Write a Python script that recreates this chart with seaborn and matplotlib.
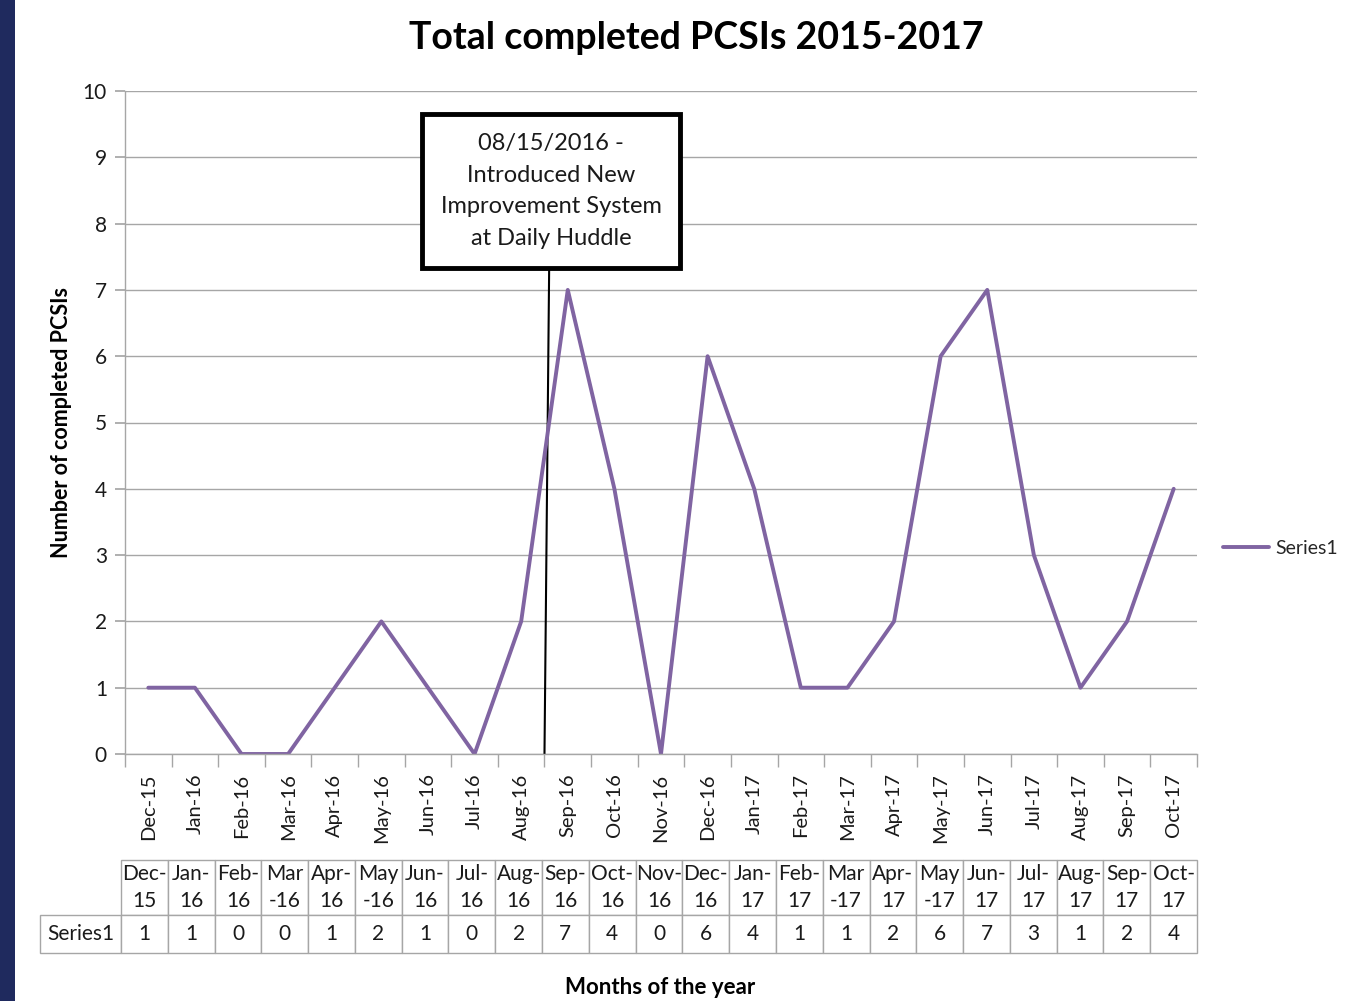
import matplotlib
matplotlib.use("Agg")
import matplotlib.pyplot as plt
import seaborn as sns
import pandas as pd
from matplotlib.patches import Rectangle

months = ["Dec-15", "Jan-16", "Feb-16", "Mar-16", "Apr-16", "May-16", "Jun-16",
          "Jul-16", "Aug-16", "Sep-16", "Oct-16", "Nov-16", "Dec-16", "Jan-17",
          "Feb-17", "Mar-17", "Apr-17", "May-17", "Jun-17", "Jul-17", "Aug-17",
          "Sep-17", "Oct-17"]
completed = [1, 1, 0, 0, 1, 2, 1, 0, 2, 7, 4, 0, 6, 4, 1, 1, 2, 6, 7, 3, 1, 2, 4]
# table header labels as they wrap in the data table
table_headers = ["Dec-\n15", "Jan-\n16", "Feb-\n16", "Mar\n-16", "Apr-\n16", "May\n-16",
                 "Jun-\n16", "Jul-\n16", "Aug-\n16", "Sep-\n16", "Oct-\n16", "Nov-\n16",
                 "Dec-\n16", "Jan-\n17", "Feb-\n17", "Mar\n-17", "Apr-\n17", "May\n-17",
                 "Jun-\n17", "Jul-\n17", "Aug-\n17", "Sep-\n17", "Oct-\n17"]
note = "08/15/2016 -\nIntroduced New\nImprovement System\nat Daily Huddle"

sns.set_theme(style="white")
plt.rcParams['font.family'] = ['Lato', 'DejaVu Sans']

purple = "#8064A2"
grid_gray = "#A6A6A6"
text_col = "#1A1A1A"

W, H = 1346, 1001
AX_L, AX_R, AX_T, AX_B = 125, 1197, 91, 754
AX_W, AX_H = AX_R - AX_L, AX_B - AX_T
fig = plt.figure(figsize=(W / 100, H / 100), dpi=100)
fig.patch.set_facecolor("white")
ax = fig.add_axes([AX_L / W, 1 - AX_B / H, AX_W / W, AX_H / H])

df = pd.DataFrame({"x": range(len(months)), "Completed": completed})
sns.lineplot(data=df, x="x", y="Completed", ax=ax, color=purple, linewidth=2.8,
             label="Series1")

ax.set_xlim(-0.5, len(months) - 0.5)
ax.set_ylim(0, 10)
ax.set_yticks(range(0, 11))
ax.yaxis.grid(True, color=grid_gray, linewidth=1)
ax.set_axisbelow(True)
for side in ["top", "right"]:
    ax.spines[side].set_visible(False)
for side in ["left", "bottom"]:
    ax.spines[side].set_color(grid_gray)
    ax.spines[side].set_linewidth(1)

ax.set_xticks(range(len(months)))
ax.set_xticklabels(months, rotation=90, fontsize=14.5, color=text_col)
ax.set_xticks([i - 0.5 for i in range(len(months) + 1)], minor=True)
ax.tick_params(axis="x", which="major", length=0, pad=14)
ax.tick_params(axis="x", which="minor", length=9, color=grid_gray, bottom=True)
ax.tick_params(axis="y", length=7, color=grid_gray, labelsize=15, labelcolor=text_col,
               left=True, pad=6)

ax.set_xlabel("")
ax.set_ylabel("Number of completed PCSIs", fontsize=15.5, fontweight="bold", labelpad=8,
              color="black")
fig.text(660 / W, 1 - 987 / H, "Months of the year", fontsize=16, fontweight="bold",
         ha="center", va="center", color="black")
fig.suptitle("Total completed PCSIs 2015-2017", x=696 / W, y=1 - 38 / H, fontsize=27,
             fontweight="bold", va="center", color="black")

# annotation box with pointer to the start of Sep-16
ax.plot([8.5, 8.6], [0, 7.3], color="black", linewidth=1.5, zorder=1)
ax.text(8.64, 8.49, note, ha="center", va="center", fontsize=17, linespacing=1.62,
        color=text_col,
        bbox=dict(boxstyle="square,pad=0.8", facecolor="white", edgecolor="black",
                  linewidth=3.5), zorder=5)

# legend at the right edge
ax.legend_.remove()
fig.legend(handles=ax.get_lines()[:1], labels=["Series1"], loc="center left",
           bbox_to_anchor=(1215 / W, 1 - 548 / H), frameon=False, fontsize=14,
           handlelength=2.4, handletextpad=0.3, borderaxespad=0)

# data table below the chart, sizes given in axes fractions
col_w = (AX_R - 121) / len(months) / AX_W
tab = ax.table(cellText=[[str(v) for v in completed]], rowLabels=["Series1"],
               colLabels=table_headers, cellLoc="center", rowLoc="center",
               colWidths=[col_w] * len(months),
               bbox=[(121 - AX_L) / AX_W, (AX_B - 953) / AX_H, (AX_R - 121) / AX_W,
                     93 / AX_H])
tab.auto_set_font_size(False)
for (r, c), cell in tab.get_celld().items():
    cell.set_edgecolor(grid_gray)
    cell.set_linewidth(1)
    cell.get_text().set_fontsize(15)
    cell.get_text().set_color(text_col)
    cell.set_height((55 if r == 0 else 38) / AX_H)
    if c == -1:
        cell.set_width(81 / AX_W)
    if r == 0:
        cell.get_text().set_linespacing(1.4)

# dark strip at the left edge
fig.patches.append(Rectangle((0, 0), 15 / W, 1, transform=fig.transFigure,
                             facecolor="#1F2A5E", edgecolor="none", zorder=0))

fig.savefig("out.png", dpi=100)
